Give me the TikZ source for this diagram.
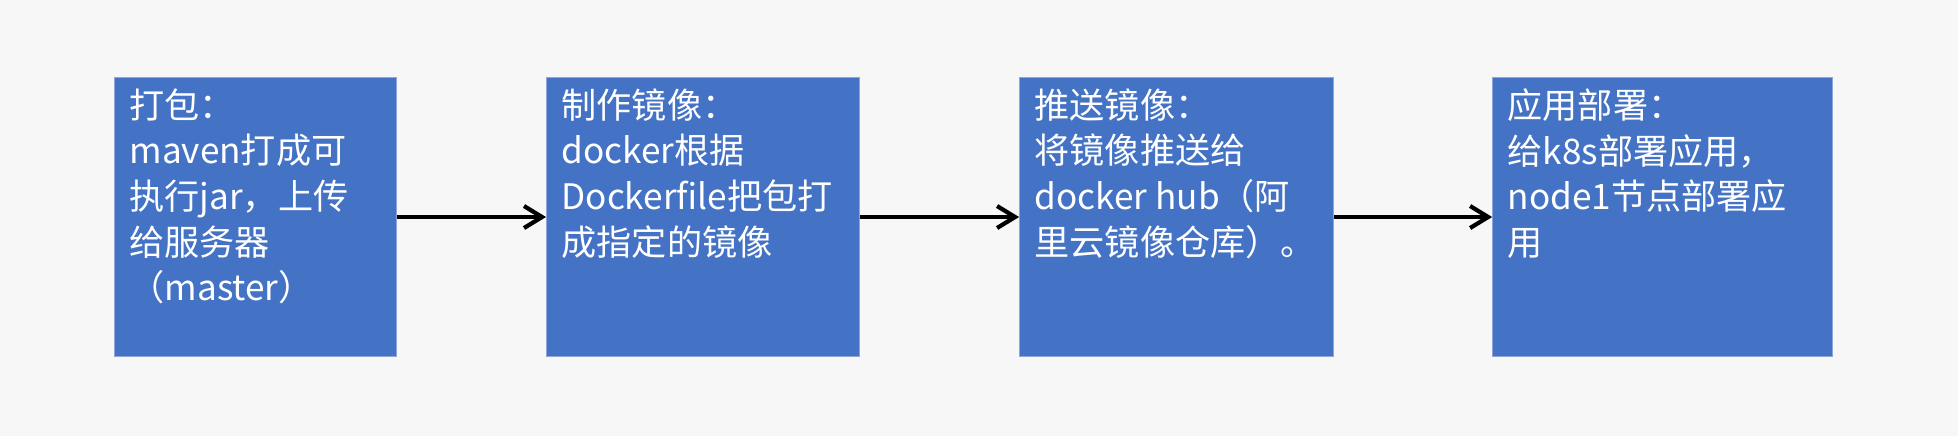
\documentclass[tikz,border=0pt]{standalone}
\usepackage{fontspec}
\setmainfont{Noto Sans CJK SC}
\usepackage{xcolor}
\usetikzlibrary{arrows.meta, positioning}
\definecolor{boxblue}{HTML}{4472C4}
\definecolor{boxedge}{HTML}{8CA6DA}
\definecolor{slidebg}{HTML}{F7F7F7}
\newcommand{\steptext}[2]{\parbox[c][5.14cm][t]{#1}{\raggedright #2}}
\tikzset{
  stepbox/.style={rectangle, draw=boxedge, line width=0.6pt, fill=boxblue,
    text=white, inner xsep=0.3cm, inner ysep=0.22cm,
    font=\fontsize{20pt}{26pt}\selectfont},
  arrow/.style={line width=2.6pt, -{Straight Barb[length=0.36cm, width=0.44cm, line width=2.4pt]}}
}
\begin{document}
\begin{tikzpicture}
\fill[slidebg] (0,0) rectangle (39.16,8.72);
\useasboundingbox (0,0) rectangle (39.16,8.72);

% Nodes
\node (pack) [stepbox, anchor=north west] at (2.28,7.18)
  {\steptext{5.04cm}{打包：\\maven打成可\\执行jar，上传\\给服务器\\（master）}};
\node (image) [stepbox, right=2.98cm of pack]
  {\steptext{5.66cm}{制作镜像：\\docker根据\\Dockerfile把包打\\成指定的镜像}};
\node (push) [stepbox, right=3.18cm of image]
  {\steptext{5.68cm}{推送镜像：\\将镜像推送给\\docker hub（阿\\里云镜像仓库）。}};
\node (deploy) [stepbox, right=3.16cm of push]
  {\steptext{6.2cm}{应用部署：\\给k8s部署应用，\\node1节点部署应\\用}};

% Arrows
\draw [arrow] (pack) -- (image);
\draw [arrow] (image) -- (push);
\draw [arrow] (push) -- (deploy);

\end{tikzpicture}
\end{document}
